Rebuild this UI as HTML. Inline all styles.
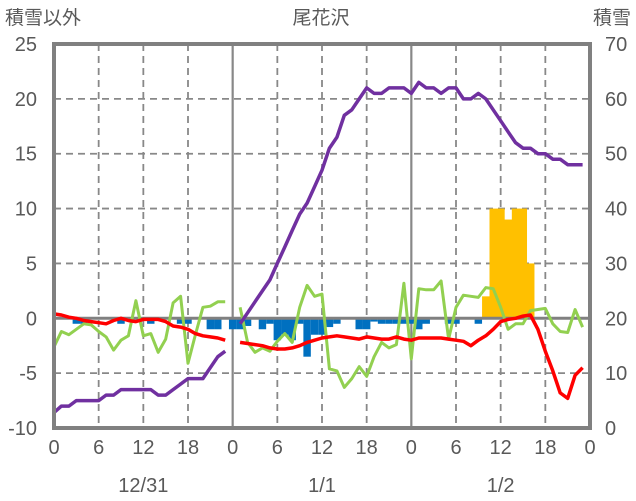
<!DOCTYPE html>
<html><head><meta charset="utf-8">
<style>
html,body{margin:0;padding:0;background:#fff;}
svg{display:block;font-family:"Liberation Sans","Noto Sans CJK JP",sans-serif;}
</style></head>
<body>
<svg id="chart" width="636" height="501" viewBox="0 0 636 501" xmlns="http://www.w3.org/2000/svg">
<text x="5" y="24" font-size="19" fill="#595959">積雪以外</text>
<text x="321" y="24" font-size="19" fill="#595959" text-anchor="middle">尾花沢</text>
<text x="631" y="24" font-size="19" fill="#595959" text-anchor="end">積雪</text>
<g id="grid"></g>
<g id="bars"></g>
<g id="lines"></g>
<g id="frame"></g>
<g id="labels"></g>
</svg>
<script>
const hourTicks = [0,6,12,18,0,6,12,18,0,6,12,18,0];
const dateLabels = ["12/31","1/1","1/2"];
const leftTicks = [25,20,15,10,5,0,-5,-10];
const rightTicks = [70,60,50,40,30,20,10,0];
const N = null;
// hourly series, 72 hours (null = gap)
const purple = [-8.6,-8,-8,-7.5,-7.5,-7.5,-7.5,-7,-7,-6.5,-6.5,-6.5,-6.5,-6.5,-7,-7,-6.5,-6,-5.5,-5.5,-5.5,-4.5,-3.5,-3,
 N,-0.5,0.5,1.5,2.5,3.5,5,6.5,8,9.5,10.5,12,13.5,15.5,16.5,18.5,19,20,21,20.5,20.5,21,21,21,
 20.5,21.5,21,21,20.5,21,21,20,20,20.5,20,19,18,17,16,15.5,15.5,15,15,14.5,14.5,14,14,14];
const red = [0.4,0.3,0.1,0,-0.2,-0.3,-0.4,-0.5,-0.2,0,-0.2,-0.3,-0.1,-0.1,-0.1,-0.3,-0.7,-0.8,-1,-1.4,-1.6,-1.7,-1.8,-2,
 N,-2.2,-2.3,-2.4,-2.5,-2.7,-2.8,-2.8,-2.7,-2.5,-2.2,-2,-1.8,-1.7,-1.6,-1.7,-1.8,-1.9,-1.7,-1.8,-1.9,-1.9,-1.7,-1.9,
 -2,-1.8,-1.8,-1.8,-1.8,-1.9,-2,-2.1,-2.5,-2,-1.6,-1,-0.3,-0.1,0,0.2,0.3,-1,-3,-4.8,-6.8,-7.3,-5.2,-4.5];
const green = [-2.6,-1.2,-1.5,-1,-0.5,-0.6,-1.2,-1.7,-2.9,-2,-1.6,1.6,-1.6,-1.4,-3.1,-1.9,1.4,2,-4.1,-1.5,1,1.1,1.5,1.5,
 N,1,-2.2,-3.1,-2.7,-3,-2.1,-1.4,-2.2,1,3,2,2.2,-4.6,-4.8,-6.3,-5.5,-4.4,-5.3,-3.5,-2.2,-2.7,-2.4,3.2,
 -3.7,2.7,2.6,2.6,3.4,-1.9,1,2.1,2,1.9,2.8,2.7,1,-1,-0.5,-0.5,0.7,0.8,0.9,-0.5,-1.2,-1.3,0.8,-0.8];
const blue = [0,0,0,-0.5,-0.5,0,0,0,0,-0.5,0,0,0,-0.5,0,0,0,-0.5,-0.5,0,0,-1,-1,0,
 -1,-1,-0.7,0,-1,-0.5,-2,-1.5,-2,-0.5,-3.5,-1.5,-1.5,-0.8,-0.5,0,0,-1,-1,-0.3,-0.5,-0.5,-0.5,-0.5,
 -0.5,-1,-0.5,0,0,-0.5,-0.5,0,0,-0.5,0,0,0,0,0,0,0,0,0,0,0,0,0,0];
const snow = [0,0,0,0,0,0,0,0,0,0,0,0,0,0,0,0,0,0,0,0,0,0,0,0,
 0,0,0,0,0,0,0,0,0,0,0,0,0,0,0,0,0,0,0,0,0,0,0,0,
 0,0,0,0,0,0,0,0,0,0,24,40,40,38,40,40,30,0,0,0,0,0,0,0];

const X0=54, X1=590, Y0=44, Y1=428;
const xS = h => X0 + h*(X1-X0)/72;
const yL = v => Y0 + (25-v)*(Y1-Y0)/35;
const yR = v => Y0 + (70-v)*(Y1-Y0)/70;
const NS="http://www.w3.org/2000/svg";
function mk(tag, attrs, parent){const e=document.createElementNS(NS,tag);for(const k in attrs)e.setAttribute(k,attrs[k]);parent.appendChild(e);return e;}
const grid=document.getElementById('grid'), bars=document.getElementById('bars'), lines=document.getElementById('lines'), frame=document.getElementById('frame'), labels=document.getElementById('labels');

leftTicks.forEach(v=>{
  if(v!==25 && v!==-10 && v!==0){
    const l=mk('line',{x1:X0,x2:X1,y1:yL(v),y2:yL(v),stroke:'#888','stroke-width':1.8,'stroke-dasharray':'7,5'},grid);
    
    
  }
  const t=mk('text',{x:37,y:yL(v)+7,'font-size':20,fill:'#595959','text-anchor':'end'},labels);
  t.textContent=v;
  
  
});
rightTicks.forEach(v=>{
  const t=mk('text',{x:605,y:yR(v)+7,'font-size':20,fill:'#595959'},labels);
  t.textContent=v;
  
  
});
hourTicks.forEach((v,i)=>{
  const x=xS(i*6);
  if(i>0 && i<12){
    const day = i%4===0;
    const l=mk('line',{x1:x,x2:x,y1:Y0,y2:Y1,stroke:'#888','stroke-width':day?2.2:1.8,'stroke-dasharray':day?'none':'7,5'},grid);
    
    
  }
  const t=mk('text',{x:x,y:454,'font-size':20,fill:'#595959','text-anchor':'middle'},labels);
  t.textContent=v;
  
  
});
dateLabels.forEach((d,i)=>{
  const t=mk('text',{x:xS(12+24*i),y:492,'font-size':20,fill:'#595959','text-anchor':'middle'},labels);
  t.textContent=d;
  
  
});
const bw=(X1-X0)/72;
blue.forEach((v,h)=>{
  if(!v) return;
  const r=mk('rect',{x:xS(h)-bw/2,y:yL(0),width:bw,height:yL(v)-yL(0),fill:'#0070C0'},bars);
  
  
});
snow.forEach((v,h)=>{
  if(!v) return;
  const r=mk('rect',{x:xS(h)-bw/2,y:yR(v),width:bw+0.3,height:yR(20)-yR(v),fill:'#FFC000'},bars);
  
  
});
const z=mk('line',{x1:X0,x2:X1,y1:yL(0),y2:yL(0),stroke:'#808080','stroke-width':3},bars);


function series(arr,color,name,w){
  let d='',pen=false;
  arr.forEach((v,h)=>{
    if(v===null){pen=false;return;}
    d+=(pen?'L':'M')+xS(h).toFixed(1)+','+yL(v).toFixed(1);
    pen=true;
  });
  const p=mk('path',{d:d,fill:'none',stroke:color,'stroke-width':w,'stroke-linejoin':'round'},lines);
  
  
}
series(green,'#92D050','wind-line',3);
series(red,'#FF0000','temperature-line',3.5);
series(purple,'#7030A0','snow-depth-line',3.5);
const f=mk('rect',{x:X0,y:Y0,width:X1-X0,height:Y1-Y0,fill:'none',stroke:'#808080','stroke-width':4},frame);


</script>
</body></html>
